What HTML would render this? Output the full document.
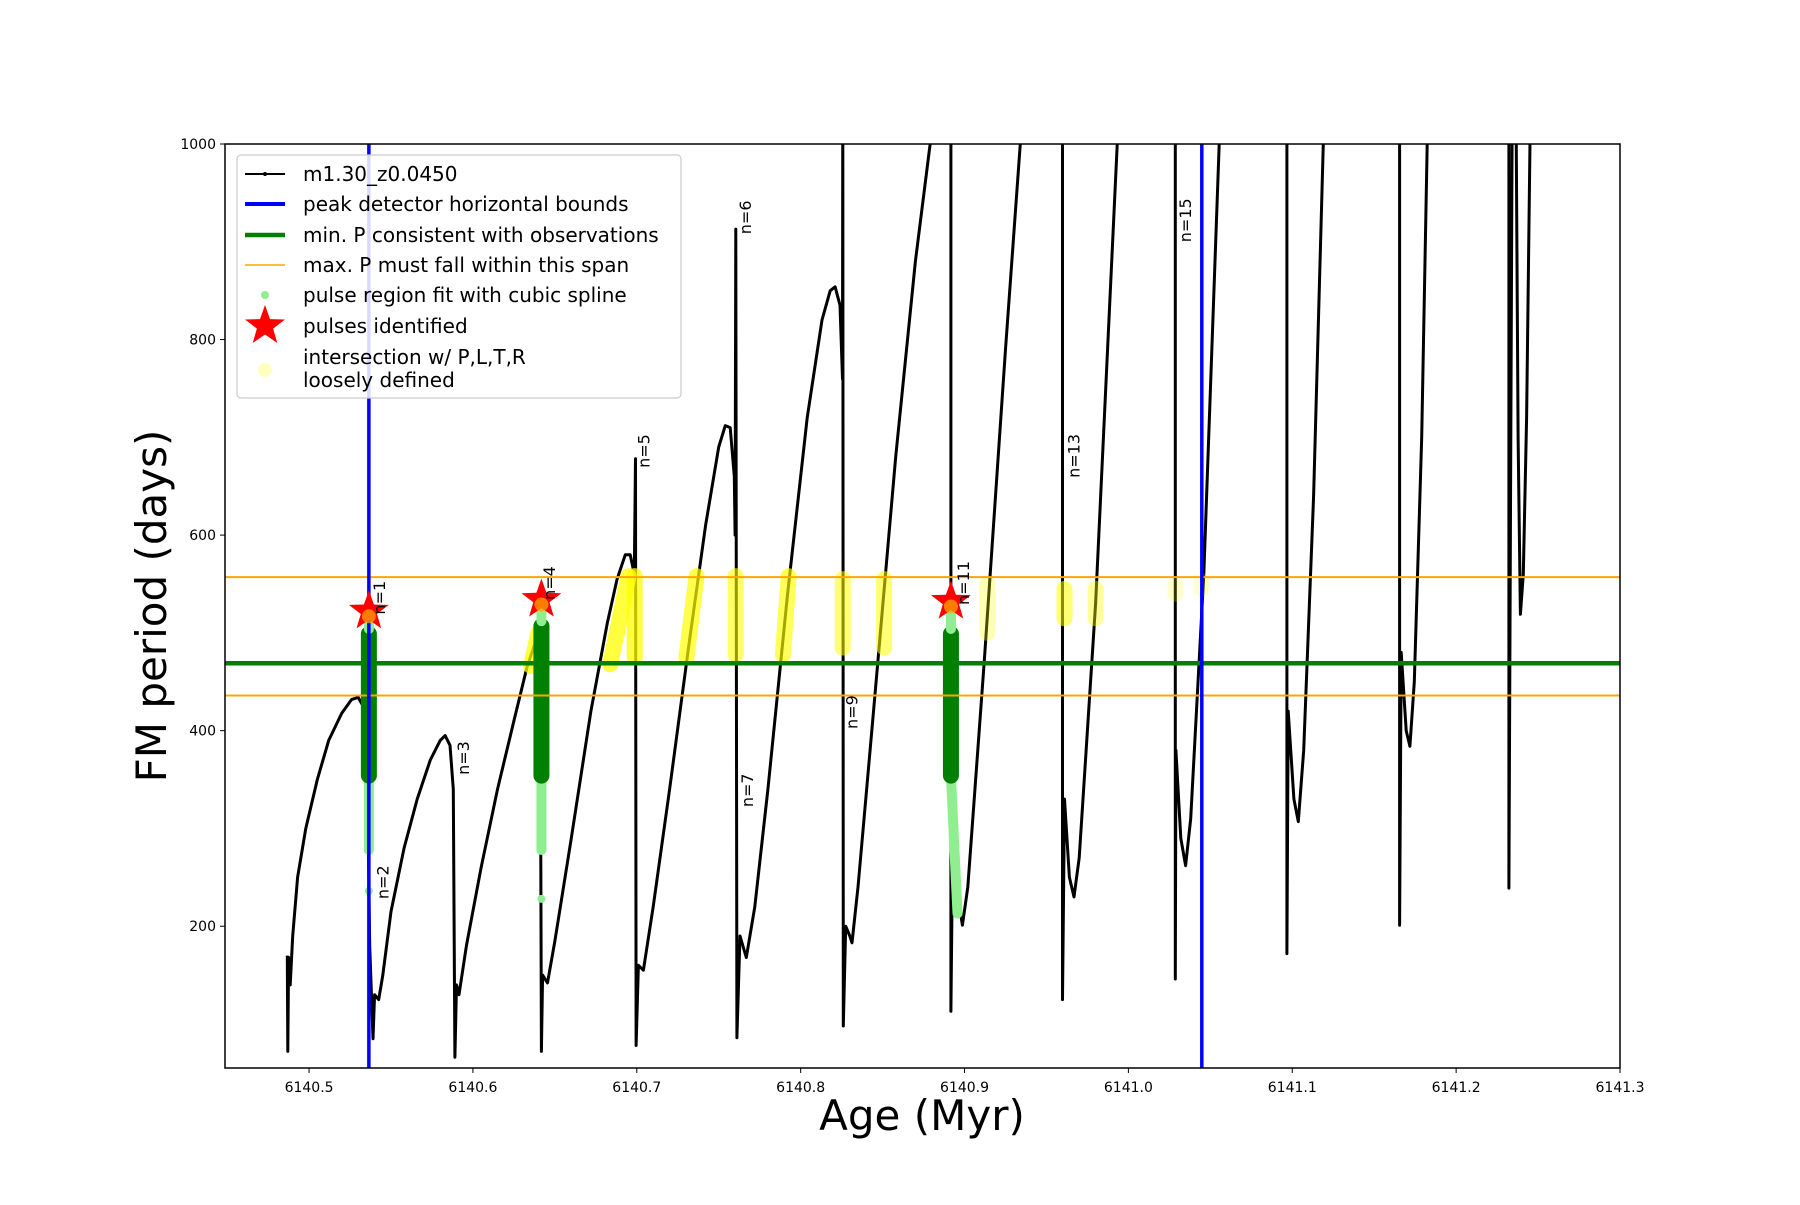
<!DOCTYPE html>
<html><head><meta charset="utf-8"><style>
body{margin:0;background:#fff}
svg text{font-family:"DejaVu Sans","Liberation Sans",sans-serif}
</style></head><body>
<svg id="chart" width="1800" height="1200" xmlns="http://www.w3.org/2000/svg">
<rect width="1800" height="1200" fill="#fff"/>
<defs><clipPath id="clip"><rect x="225" y="144" width="1395" height="924"/></clipPath></defs>
<g id="plot" clip-path="url(#clip)"></g>
<g id="axes"></g>
</svg>
<script>
const xTicks=[6140.5,6140.6,6140.7,6140.8,6140.9,6141.0,6141.1,6141.2,6141.3];
const yTicks=[200,400,600,800,1000];
const blueBounds=[6140.5365,6141.0448];
const minP=[469];
const maxSpan=[436,557];
const curveSegments=[
[[6140.4867,170],[6140.4870,72],[6140.4875,168],[6140.4885,140],[6140.4900,190],[6140.4930,250],[6140.4980,300],[6140.5050,350],[6140.5120,390],[6140.5200,418],[6140.5260,432],[6140.5300,434],[6140.5330,425],[6140.5345,400],[6140.5360,300],[6140.5370,180],[6140.5390,85],[6140.5400,130],[6140.5425,125],[6140.5450,150],[6140.5500,215],[6140.5580,280],[6140.5660,330],[6140.5740,370],[6140.5800,390],[6140.5830,395],[6140.5860,385],[6140.5880,340],[6140.5890,66],[6140.5900,140],[6140.5915,130],[6140.5960,180],[6140.6050,260],[6140.6150,340],[6140.6250,410],[6140.6330,465],[6140.6380,490],[6140.6410,500],[6140.6418,72],[6140.6425,150],[6140.6455,142],[6140.6500,185],[6140.6600,290],[6140.6720,420],[6140.6820,510],[6140.6880,555],[6140.6930,580],[6140.6960,580],[6140.6985,560],[6140.6992,678],[6140.6996,78],[6140.7010,160],[6140.7040,155],[6140.7100,220],[6140.7200,340],[6140.7320,490],[6140.7420,610],[6140.7500,690],[6140.7540,712],[6140.7570,710],[6140.7595,660],[6140.7600,600],[6140.7604,913],[6140.7611,86],[6140.7630,190],[6140.7668,168],[6140.7720,220],[6140.7800,340],[6140.7920,540],[6140.8040,720],[6140.8130,820],[6140.8180,850],[6140.8210,854],[6140.8240,835],[6140.8255,760],[6140.8257,1060],[6140.8260,98],[6140.8275,200],[6140.8300,190],[6140.8313,183],[6140.8350,240],[6140.8450,430],[6140.8580,680],[6140.8700,880],[6140.8805,1020]],
[[6140.8917,1060],[6140.8917,113],[6140.8930,330],[6140.8960,230],[6140.8987,201],[6140.9020,240],[6140.9120,470],[6140.9250,790],[6140.9366,1060]],
[[6140.9598,1060],[6140.9598,125],[6140.9610,330],[6140.9640,250],[6140.9668,230],[6140.9700,270],[6140.9800,530],[6140.9949,1060]],
[[6141.0286,1060],[6141.0286,146],[6141.0290,380],[6141.0320,290],[6141.0349,262],[6141.0380,310],[6141.0460,560],[6141.0567,1060]],
[[6141.0967,1060],[6141.0967,172],[6141.0975,420],[6141.1010,330],[6141.1037,307],[6141.1070,380],[6141.1130,640],[6141.1199,1060]],
[[6141.1655,1060],[6141.1655,201],[6141.1665,480],[6141.1695,400],[6141.1718,384],[6141.1745,450],[6141.1790,700],[6141.1830,1060]],
[[6141.2322,1060],[6141.2322,239],[6141.2343,1060]],
[[6141.2365,1060],[6141.2378,700],[6141.2392,519],[6141.2410,560],[6141.2430,720],[6141.2455,1060]]
];
const splineAges=[6140.5365,6140.6418,6140.8917];
const splineTop=[499,507,499];
const splineBottom=[354,354,354];
const lightBottom=[278,278,213];
const lightDots=[[6140.5365,236],[6140.6418,228]];
const stars=[[6140.5365,522],[6140.6418,534],[6140.8917,532]];
const yellowSegs=[
[[6140.6355,466],[6140.6400,500]],[[6140.6838,468],[6140.6950,558]],[[6140.6987,475],[6140.6987,558]],
[[6140.7303,475],[6140.7365,558]],[[6140.7604,478],[6140.7604,558]],[[6140.7892,478],[6140.7927,558]],
[[6140.8257,485],[6140.8257,555]],[[6140.8510,485],[6140.8510,555]],[[6140.9140,500],[6140.9140,550]],
[[6140.9610,515],[6140.9610,545]],[[6140.9800,515],[6140.9800,545]],[[6141.0286,540],[6141.0286,548]],[[6141.0448,545],[6141.0448,553]]
];
const yellowAlpha=[0.75,0.75,0.75,0.7,0.6,0.65,0.55,0.55,0.3,0.55,0.4,0.2,0.2];
const nLabels=["n=1","n=2","n=3","n=4","n=5","n=6","n=7","n=9","n=11","n=13","n=15"];
const nAges=[6140.5435,6140.5456,6140.5948,6140.6474,6140.7050,6140.7668,6140.7682,6140.8320,6140.9001,6140.9675,6141.0356];
const nPs=[536,245,372,551,686,925,339,419,551,681,922];

const X0=6140.4487,X1=6141.3,PL=225,PR=1620,PT=144,PB=1068,Y0=55,Y1=1000;
const sx=a=>PL+(a-X0)/(X1-X0)*(PR-PL);
const sy=p=>PT+(Y1-p)/(Y1-Y0)*(PB-PT);
const NS="http://www.w3.org/2000/svg";
const plot=document.getElementById('plot'),axes=document.getElementById('axes');
function mk(tag,at,par){const e=document.createElementNS(NS,tag);for(const k in at)e.setAttribute(k,at[k]);(par||plot).appendChild(e);return e;}

curveSegments.forEach((seg,i)=>{
 const e=mk('polyline',{points:seg.map(p=>sx(p[0]).toFixed(1)+','+sy(p[1]).toFixed(1)).join(' '),fill:'none',stroke:'#000','stroke-width':3,'stroke-linejoin':'round'});
 
 
});
yellowSegs.forEach((s,i)=>{
 const e=mk('line',{x1:sx(s[0][0]),y1:sy(s[0][1]),x2:sx(s[1][0]),y2:sy(s[1][1]),stroke:'#ffff00','stroke-opacity':yellowAlpha[i],'stroke-width':16,'stroke-linecap':'round'});
 
 
});
splineAges.forEach((a,i)=>{
 let e=mk('line',{x1:sx(a),y1:sy(splineBottom[i]),x2:sx(a+(i==2?0.004:0)),y2:sy(lightBottom[i]),stroke:'#90ee90','stroke-width':10,'stroke-linecap':'round'});
 
 
 e=mk('line',{x1:sx(a),y1:sy(splineTop[i]),x2:sx(a),y2:sy(splineBottom[i]),stroke:'#008000','stroke-width':16,'stroke-linecap':'round'});
 
 
 e=mk('line',{x1:sx(a),y1:sy(splineTop[i]+5),x2:sx(a),y2:sy(splineTop[i]+20),stroke:'#90ee90','stroke-width':10,'stroke-linecap':'round'});
 
 
});
lightDots.forEach(d=>{
 const e=mk('circle',{cx:sx(d[0]),cy:sy(d[1]),r:4,fill:'#90ee90'});
 
 
});
maxSpan.forEach(p=>{
 const e=mk('line',{x1:PL,x2:PR,y1:sy(p),y2:sy(p),stroke:'#ffa500','stroke-width':2});
 
 
});
minP.forEach(p=>{
 const e=mk('line',{x1:PL,x2:PR,y1:sy(p),y2:sy(p),stroke:'#008000','stroke-width':4.5});
 
 
});
blueBounds.forEach(a=>{
 const e=mk('line',{x1:sx(a),x2:sx(a),y1:PT,y2:PB,stroke:'#0000ff','stroke-width':3.5});
 
 
});
function starPts(cx,cy,R,r){let s=[];for(let k=0;k<10;k++){const ang=-Math.PI/2+k*Math.PI/5,rr=k%2?r:R;s.push((cx+rr*Math.cos(ang)).toFixed(1)+','+(cy+rr*Math.sin(ang)).toFixed(1));}return s.join(' ');}
stars.forEach(s=>{
 const e=mk('polygon',{points:starPts(sx(s[0]),sy(s[1]),21,8.5),fill:'#ff0000'});
 
 
 const c=mk('circle',{cx:sx(s[0]),cy:sy(s[1]-5),r:7,fill:'#ffa500','fill-opacity':0.75});
 
 
});
nLabels.forEach((t,i)=>{
 const x=sx(nAges[i]),y=sy(nPs[i]);
 const e=mk('text',{x:x,y:y,'font-size':16,'text-anchor':'middle','dominant-baseline':'middle',transform:`rotate(-90 ${x} ${y})`,fill:'#000'});
 e.textContent=t;
 
 
});
let fr=mk('rect',{x:PL,y:PT,width:PR-PL,height:PB-PT,fill:'none',stroke:'#000','stroke-width':1.5},axes);

xTicks.forEach(v=>{
 const x=sx(v);
 let e=mk('line',{x1:x,x2:x,y1:PB,y2:PB+5,stroke:'#000','stroke-width':1},axes);
 
 e=mk('text',{x:x,y:PB+24,'font-size':14,'text-anchor':'middle'},axes);
 e.textContent=v.toFixed(1);
 
});
yTicks.forEach(v=>{
 const y=sy(v);
 let e=mk('line',{x1:PL-5,x2:PL,y1:y,y2:y,stroke:'#000','stroke-width':1},axes);
 
 e=mk('text',{x:PL-9,y:y+5,'font-size':14,'text-anchor':'end'},axes);
 e.textContent=v;
 
});
let xl=mk('text',{x:922,y:1130,'font-size':42,'text-anchor':'middle'},axes);
xl.textContent='Age (Myr)';
let yl=mk('text',{x:166,y:606,'font-size':42,'text-anchor':'middle',transform:'rotate(-90 166 606)'},axes);
yl.textContent='FM period (days)';

const lg=mk('g',{},axes);
mk('rect',{x:237,y:155,width:444,height:243,rx:4,fill:'#fff','fill-opacity':0.85,stroke:'#ccc','stroke-width':1.2},lg);
const lt=[['m1.30_z0.0450',174],['peak detector horizontal bounds',204],['min. P consistent with observations',235],['max. P must fall within this span',265],['pulse region fit with cubic spline',295],['pulses identified',326],['intersection w/ P,L,T,R',357],['loosely defined',380]];
lt.forEach(l=>{const e=mk('text',{x:303,y:l[1]+7,'font-size':20},lg);e.textContent=l[0];});
mk('line',{x1:245,x2:285,y1:174,y2:174,stroke:'#000','stroke-width':2},lg);
mk('circle',{cx:265,cy:174,r:2,fill:'#000'},lg);
mk('line',{x1:245,x2:285,y1:204,y2:204,stroke:'#0000ff','stroke-width':4},lg);
mk('line',{x1:245,x2:285,y1:235,y2:235,stroke:'#008000','stroke-width':4.5},lg);
mk('line',{x1:245,x2:285,y1:265,y2:265,stroke:'#ffa500','stroke-width':1.5},lg);
mk('circle',{cx:265,cy:295,r:4,fill:'#90ee90'},lg);
mk('polygon',{points:starPts(265,326,21,8.5),fill:'#ff0000'},lg);
mk('circle',{cx:265,cy:370,r:7,fill:'#ffff00','fill-opacity':0.25},lg);
</script>
</body></html>
